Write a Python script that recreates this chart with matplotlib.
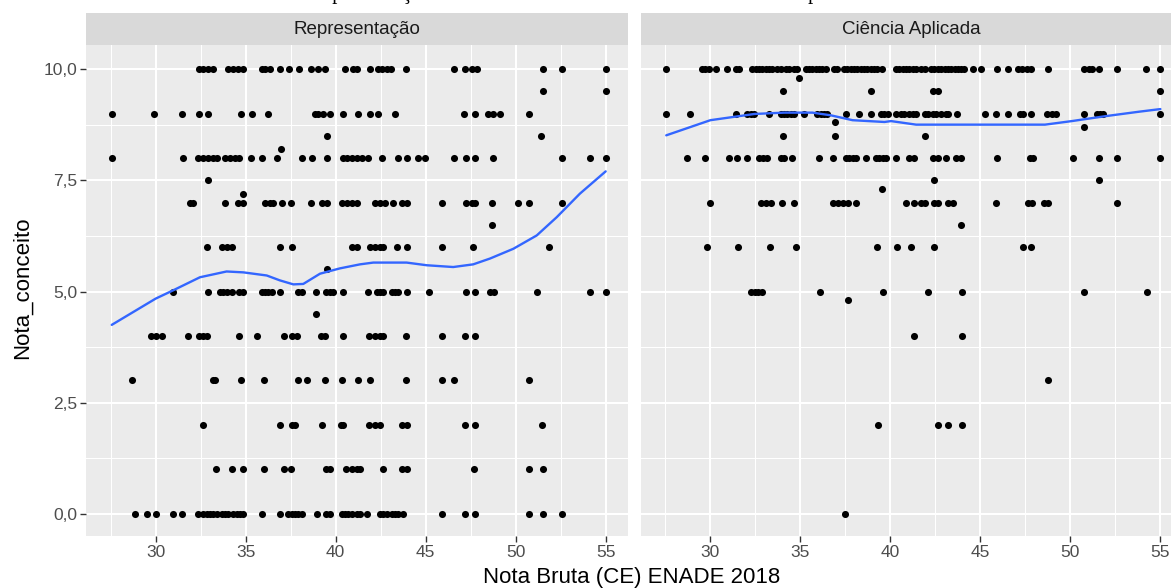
import matplotlib
matplotlib.use("Agg")
import matplotlib.pyplot as plt
from matplotlib.ticker import FixedLocator, FixedFormatter

# ---------------- data ----------------
panel_titles = ["Representação", "Ciência Aplicada"]
x_ticks = [30, 35, 40, 45, 50, 55]
x_tick_labels = ["30", "35", "40", "45", "50", "55"]
x_minor = [27.5, 32.5, 37.5, 42.5, 47.5, 52.5]
y_ticks = [0, 2.5, 5, 7.5, 10]
y_tick_labels = ["0,0", "2,5", "5,0", "7,5", "10,0"]
y_minor = [1.25, 3.75, 6.25, 8.75]

# Representação: score levels and the x values (Nota Bruta) found at each level
rep_levels = [10, 9.5, 9, 8.5, 8.2, 8, 7.5, 7.2, 7, 6.5, 6, 5.5, 5, 4.5, 4, 3, 2, 1, 0]
rep_xs = [
    [32.4, 32.65, 32.9, 33.2, 34.0, 34.3, 34.6, 34.85, 35.9, 36.1, 36.35, 36.9, 37.4, 37.95,
     38.65, 39.0, 39.4, 40.5, 40.95, 41.2, 41.9, 42.35, 42.6, 42.85, 43.1, 43.9, 46.57, 47.18,
     47.57, 47.85, 51.5, 52.57, 55.0],
    [51.5, 55.0],
    [27.56, 29.91, 31.44, 32.42, 32.92, 34.74, 35.33, 36.22, 38.85, 39.04, 39.28, 39.68, 40.39,
     41.26, 41.91, 42.37, 43.29, 47.13, 47.74, 48.48, 48.76, 49.13, 50.74],
    [39.5, 51.4],
    [36.96],
    [27.56, 31.5, 32.37, 32.64, 32.92, 33.2, 33.39, 33.85, 34.13, 34.4, 34.64, 35.3, 35.89,
     36.72, 38.11, 38.67, 39.5, 40.4, 40.61, 40.89, 41.17, 41.44, 41.81, 42.56, 43.48, 43.94,
     44.59, 44.96, 46.59, 47.24, 47.74, 48.76, 52.56, 54.13, 55.0],
    [32.92],
    [34.87],
    [31.9, 32.09, 33.85, 34.59, 34.87, 36.07, 36.35, 36.53, 37.0, 37.5, 38.61, 39.22, 39.5,
     40.33, 40.61, 40.89, 41.17, 42.18, 42.46, 42.74, 43.17, 43.67, 43.94, 45.89, 47.24, 47.56,
     47.74, 48.67, 50.14, 50.74, 52.56],
    [48.67],
    [32.83, 33.67, 33.94, 34.22, 36.9, 37.59, 40.89, 41.17, 41.91, 42.18, 42.46, 42.65, 43.39,
     43.94, 45.89, 47.61, 51.87],
    [39.5],
    [30.94, 32.89, 33.57, 33.76, 33.94, 34.22, 34.64, 34.87, 35.89, 36.07, 36.26, 36.44, 36.91,
     37.92, 38.11, 38.91, 39.44, 39.68, 39.87, 40.42, 41.81, 42.28, 42.46, 42.65, 43.11, 43.29,
     43.48, 43.94, 45.2, 47.24, 47.74, 48.57, 48.79, 51.17, 54.13, 55.0],
    [38.91],
    [29.72, 30.02, 30.33, 31.78, 32.42, 32.64, 32.83, 34.64, 35.61, 37.13, 37.56, 37.83, 39.17,
     39.41, 40.39, 41.87, 42.18, 42.46, 42.65, 43.91, 45.89, 47.18, 47.74],
    [28.67, 33.17, 33.29, 34.74, 36.03, 37.92, 38.39, 39.41, 40.37, 41.26, 41.91, 43.91, 45.89,
     46.59, 50.74],
    [32.64, 36.91, 37.56, 37.74, 39.26, 40.28, 40.42, 41.87, 42.18, 42.46, 43.67, 43.94, 47.18,
     47.74, 51.44],
    [33.33, 34.22, 34.83, 36.03, 37.13, 37.5, 39.44, 39.68, 40.57, 40.89, 41.17, 41.35, 42.61,
     43.67, 43.94, 47.7, 50.74, 51.53],
    [28.85, 29.5, 30.02, 30.98, 31.48, 32.37, 32.64, 32.83, 33.02, 33.2, 33.39, 33.67, 33.85,
     34.04, 34.31, 34.5, 34.68, 34.87, 35.89, 36.91, 37.37, 37.56, 37.74, 37.92, 38.11, 38.94,
     39.44, 39.68, 40.33, 40.52, 40.7, 40.9, 41.17, 41.35, 41.72, 42.46, 42.65, 42.83, 43.11,
     43.29, 43.48, 43.76, 45.89, 47.18, 47.74, 50.74, 51.53, 52.56],
]

# Ciência Aplicada
ca_levels = [10, 9.8, 9.5, 9, 8.8, 8.7, 8.5, 8, 7.5, 7.3, 7, 6.5, 6, 5, 4.8, 4, 3, 2, 0]
ca_xs = [
    [27.55, 29.54, 29.72, 29.91, 30.33, 30.93, 31.4, 31.58, 32.33, 32.51, 32.7, 32.89, 33.07,
     33.26, 33.44, 33.72, 33.9, 34.18, 34.36, 34.64, 34.83, 35.29, 35.48, 35.66, 35.85, 36.03,
     36.22, 36.4, 36.87, 37.05, 37.42, 37.61, 37.79, 37.98, 38.16, 38.35, 38.54, 38.72, 38.91,
     39.09, 39.28, 39.56, 40.32, 40.5, 40.69, 40.88, 41.06, 41.25, 41.43, 41.71, 41.9, 42.27,
     42.45, 42.64, 42.83, 43.01, 43.2, 43.39, 43.57, 43.76, 43.94, 44.09, 44.6, 45.02, 45.95,
     46.55, 47.07, 47.29, 47.57, 47.81, 48.74, 50.73, 51.01, 51.2, 51.57, 52.59, 54.2, 55.0],
    [34.93],
    [34.05, 38.92, 42.36, 42.64, 55.0],
    [27.55, 28.85, 31.45, 32.01, 32.23, 32.45, 33.25, 33.9, 34.09, 34.28, 34.46, 34.65, 35.2,
     35.95, 36.13, 36.32, 36.5, 37.53, 38.24, 38.92, 39.48, 39.67, 39.85, 40.32, 40.6, 40.78,
     41.06, 41.25, 41.43, 41.9, 42.08, 42.36, 42.55, 42.83, 43.11, 43.2, 43.72, 45.28, 45.86,
     46.55, 47.19, 47.38, 47.81, 48.68, 48.96, 49.19, 50.73, 51.47, 51.66, 51.84, 55.0],
    [36.92],
    [50.73],
    [34.05, 36.92, 41.95],
    [28.7, 29.72, 31.02, 31.49, 32.05, 32.69, 32.94, 33.16, 33.9, 34.09, 34.56, 36.04, 36.79,
     37.53, 37.72, 37.9, 38.09, 38.64, 39.2, 39.39, 39.58, 39.76, 40.32, 41.06, 41.31, 42.36,
     42.64, 43.11, 43.66, 43.94, 45.95, 47.75, 47.94, 50.13, 51.6, 52.59, 55.0],
    [42.4, 51.6],
    [39.54],
    [29.96, 32.79, 33.07, 33.35, 34.0, 34.65, 36.79, 37.07, 37.35, 37.63, 38.09, 40.88, 41.34,
     41.71, 41.9, 42.45, 42.64, 43.2, 43.48, 45.86, 47.66, 47.85, 48.55, 48.78, 52.59],
    [43.94],
    [29.82, 31.54, 33.29, 34.74, 39.26, 40.37, 41.12, 42.4, 47.35, 47.81],
    [32.28, 32.48, 32.67, 32.86, 36.09, 39.58, 42.08, 44.0, 50.78, 54.23],
    [37.62],
    [41.31, 44.0],
    [48.76],
    [39.29, 42.65, 43.19, 44.0],
    [37.47],
]

# loess smooth lines
rep_smooth_x = [27.56, 30.0, 30.94, 32.46, 33.94, 34.87, 36.17, 36.9, 37.65, 38.2, 39.13,
                40.24, 41.35, 42.09, 43.94, 45.06, 46.53, 47.64, 48.57, 49.87, 51.17, 52.28,
                53.57, 55.0]
rep_smooth_y = [4.25, 4.84, 5.02, 5.32, 5.45, 5.43, 5.36, 5.25, 5.16, 5.17, 5.40, 5.52, 5.61,
                5.65, 5.65, 5.59, 5.55, 5.61, 5.74, 5.96, 6.26, 6.67, 7.2, 7.7]
ca_smooth_x = [27.55, 30.0, 32.45, 34.09, 35.67, 36.69, 37.9, 39.67, 40.04, 41.43, 45.06,
               48.59, 50.08, 51.94, 53.8, 55.0]
ca_smooth_y = [8.51, 8.85, 8.99, 9.02, 9.02, 8.96, 8.85, 8.81, 8.83, 8.75, 8.75, 8.75, 8.83,
               8.94, 9.04, 9.1]

x_label = "Nota Bruta (CE) ENADE 2018"
y_label = "Nota_conceito"

# ---------------- figure ----------------
plt.rcParams['font.family'] = ['Liberation Sans', 'DejaVu Sans']
W, H = 1171, 588
fig = plt.figure(figsize=(W / 100, H / 100), dpi=100)


def px_axes(l, t, r, b):
    return fig.add_axes([l / W, 1 - b / H, (r - l) / W, (b - t) / H])


PANEL_W = 542
panels = [
    (panel_titles[0], rep_levels, rep_xs, rep_smooth_x, rep_smooth_y, 86.0, 370),
    (panel_titles[1], ca_levels, ca_xs, ca_smooth_x, ca_smooth_y, 640.7, 797),
]

for i, (title, levels, xs, sx, sy, left, cap_x) in enumerate(panels):
    ax = px_axes(left, 45, left + PANEL_W, 536)
    ax.set_facecolor('#EBEBEB')
    for yv, row in zip(levels, xs):
        ax.scatter(row, [yv] * len(row), s=26, c='black', linewidths=0, zorder=3)
    ax.plot(sx, sy, color='#3366FF', lw=1.7, zorder=4,
            solid_capstyle='round', solid_joinstyle='round')
    ax.set_xlim(26.13, 56.24)
    ax.set_ylim(-0.495, 10.54)
    ax.xaxis.set_major_locator(FixedLocator(x_ticks))
    ax.xaxis.set_major_formatter(FixedFormatter(x_tick_labels))
    ax.xaxis.set_minor_locator(FixedLocator(x_minor))
    ax.yaxis.set_major_locator(FixedLocator(y_ticks))
    ax.yaxis.set_major_formatter(FixedFormatter(y_tick_labels))
    ax.yaxis.set_minor_locator(FixedLocator(y_minor))
    ax.grid(which='major', color='white', lw=1.5)
    ax.grid(which='minor', color='white', lw=0.75)
    ax.set_axisbelow(True)
    for s in ax.spines.values():
        s.set_visible(False)
    ax.tick_params(which='minor', length=0)
    ax.tick_params(which='major', length=4.5, width=1.0, color='#333333',
                   labelsize=12.5, labelcolor='#4D4D4D', pad=2)
    if i == 1:
        ax.tick_params(axis='y', left=False, labelleft=False)

    strip = px_axes(left, 13, left + PANEL_W, 45)
    strip.set_facecolor('#D9D9D9')
    strip.set_xticks([])
    strip.set_yticks([])
    for s in strip.spines.values():
        s.set_visible(False)
    strip.text(0.5, 0.5, title, ha='center', va='center', fontsize=13.5,
               color='#1A1A1A', transform=strip.transAxes)

    # caption above the chart: in the reference only its descenders remain,
    # the rest is cut off by the top edge of the image
    fig.text(cap_x / W, 1 + 1 / H, title, ha='center', va='baseline',
             fontsize=15, family=['Liberation Serif', 'DejaVu Serif'], color='black')

fig.text(632 / W, 1 - 577 / H, x_label, ha='center', va='center', fontsize=16, color='black')
fig.text(22 / W, 1 - 288 / H, y_label, ha='center', va='center', rotation=90,
         fontsize=16, color='black')

fig.savefig('out.png', dpi=100)
